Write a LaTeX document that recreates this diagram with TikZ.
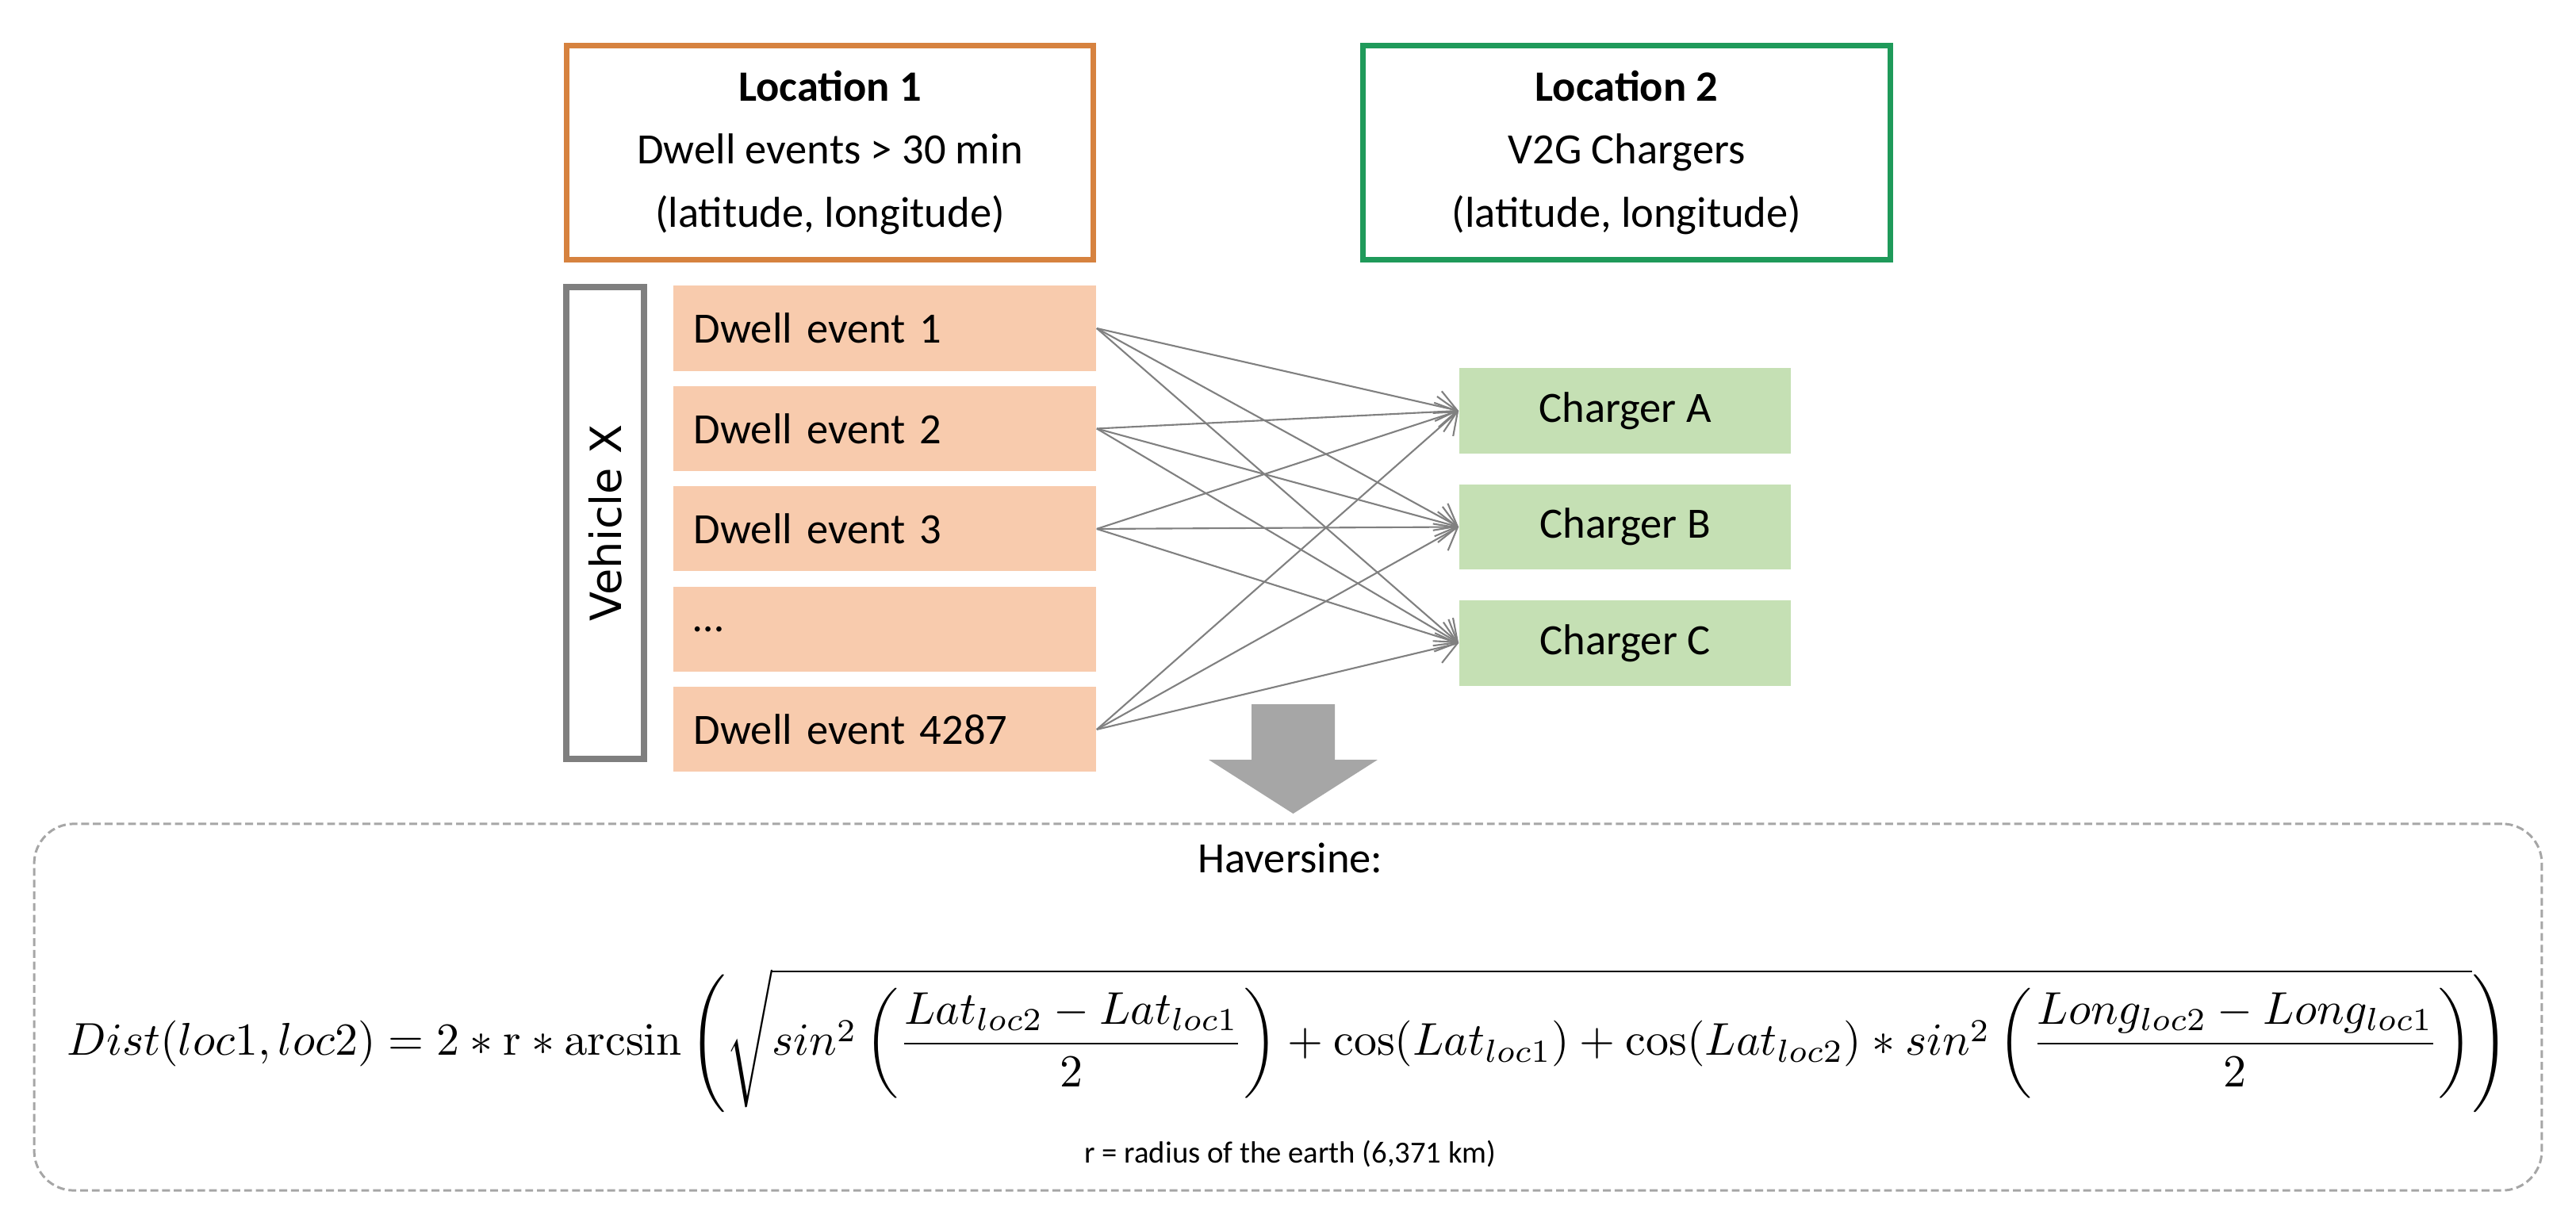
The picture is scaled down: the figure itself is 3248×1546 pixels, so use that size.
\documentclass[tikz,border=0pt]{standalone}
\usepackage{amsmath}
\usepackage[no-math]{fontspec}
\setmainfont{Carlito}
\newfontfamily\vehfont{DejaVu Sans}
\usepackage{tikz}
\usetikzlibrary{arrows.meta,positioning}
\definecolor{locorange}{HTML}{D6823F}
\definecolor{locgreen}{HTML}{1F9A5A}
\definecolor{dwellfill}{HTML}{F8CBAD}
\definecolor{chargerfill}{HTML}{C5E0B4}
\definecolor{vehgray}{HTML}{7F7F7F}
\definecolor{linkgray}{HTML}{808080}
\definecolor{softgray}{HTML}{A6A6A6}
\tikzset{
  boxtext/.style={font=\fontsize{15.5}{22.7}\selectfont},
  locbox/.style={boxtext, draw, line width=2pt, fill=white, align=center, minimum width=6.64cm, minimum height=2.70cm, inner sep=0pt},
  dwellbox/.style={boxtext, fill=dwellfill, align=left, text width=4.81cm, inner xsep=0.26cm, inner ysep=0pt, minimum height=1.07cm},
  chargerbox/.style={boxtext, fill=chargerfill, align=center, minimum width=4.18cm, minimum height=1.07cm, inner sep=0pt},
  vehbox/.style={draw=vehgray, line width=2.3pt, rotate=90, minimum width=5.95cm, minimum height=0.98cm, inner sep=0pt, font=\vehfont\fontsize{15.4}{18}\selectfont},
  link/.style={linkgray, line width=0.6pt, -{Straight Barb[length=7pt,width=11pt]}},
  formulabox/.style={draw=softgray, line width=0.85pt, dash pattern=on 2.8pt off 1.4pt, rounded corners=0.5cm, minimum width=31.6cm, minimum height=4.62cm}
}

\begin{document}
\begin{tikzpicture}[x=0.01cm, y=-0.01cm]
  \useasboundingbox (0,0) rectangle (3248,1546);
  % headers
  \node[locbox, draw=locorange] (loc1) at (1046.5,192.5) {\textbf{Location 1}\\Dwell events > 30 min\\(latitude, longitude)};
  \node[locbox, draw=locgreen] (loc2) at (2051,192.5) {\textbf{Location 2}\\V2G Chargers\\(latitude, longitude)};
  % dwell events of one vehicle
  \node[vehbox] (veh) at (763,659.5) {Vehicle X};
  \node[dwellbox] (d1) at (1115.5,414) {Dwell event 1};
  \node[dwellbox, below=0.18cm of d1] (d2) {Dwell event 2};
  \node[dwellbox, below=0.18cm of d2] (d3) {Dwell event 3};
  \node[dwellbox, below=0.18cm of d3] (d4) {\dots};
  \node[dwellbox, below=0.18cm of d4] (d5) {Dwell event 4287};
  % chargers
  \node[chargerbox] (chA) at (2049,518) {Charger A};
  \node[chargerbox, below=0.38cm of chA] (chB) {Charger B};
  \node[chargerbox, below=0.38cm of chB] (chC) {Charger C};
  \foreach \s in {d1,d2,d3,d5}
    \foreach \t in {chA,chB,chC}
      \draw[link] (\s.east) -- (\t.west);
  % down arrow
  \fill[softgray] (1578,888) -- (1683,888) -- (1683,958) -- (1737,958) -- (1630.5,1026) -- (1524,958) -- (1578,958) -- cycle;
  % haversine
  \node[formulabox] (hbox) at (1624,1270) {};
  \node[boxtext] (htitle) at (1627,1082) {Haversine:};
  \node (formula) at (1624,1312) {\resizebox{30.76cm}{!}{$\displaystyle Dist(loc1,loc2) = 2\ast\mathrm{r}\ast\arcsin\left(\sqrt{sin^2\left(\frac{Lat_{loc2}-Lat_{loc1}}{2}\right)+\cos(Lat_{loc1})+\cos(Lat_{loc2})\ast sin^2\left(\frac{Long_{loc2}-Long_{loc1}}{2}\right)}\right)$}};
  \node[font=\fontsize{11}{13}\selectfont] (rnote) at (1627,1455) {r = radius of the earth (6,371 km)};
\end{tikzpicture}
\end{document}
